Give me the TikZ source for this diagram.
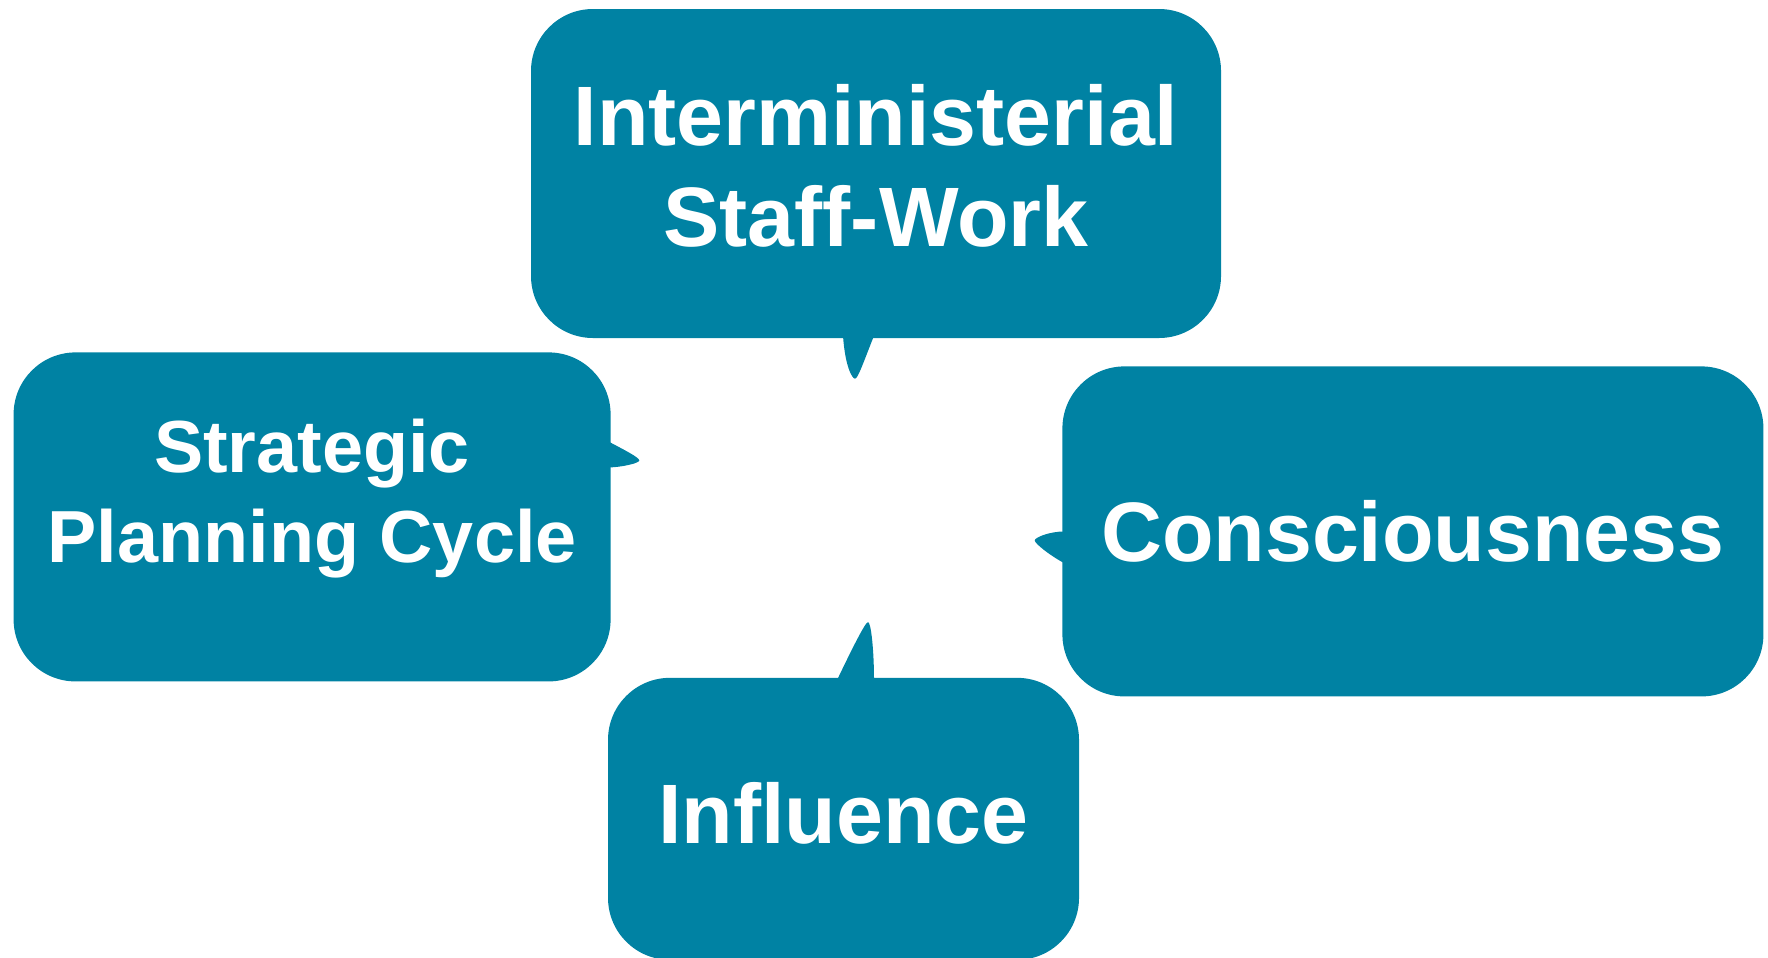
\documentclass[tikz,border=0pt]{standalone}
\usepackage{fontspec}
\setmainfont{Liberation Sans}
\usetikzlibrary{positioning, calc}
\definecolor{bubblecol}{HTML}{0082A3}
\tikzstyle{block} = [rectangle, rounded corners=6.2mm, fill=bubblecol, text=white, align=center, inner sep=0pt, font=\bfseries\fontsize{24}{29}\selectfont]
\tikzstyle{small block} = [block, font=\bfseries\fontsize{21}{25.5}\selectfont]
\tikzstyle{tail} = [fill=bubblecol]

\begin{document}
\begin{tikzpicture}[node distance=5mm]
    \useasboundingbox (0,0) rectangle (17.68,9.57);

    % Nodes.
    \node (node top) [block, minimum width=69mm, minimum height=32.9mm, text depth=4.6pt] at (8.76,7.835) {Interministerial\\Staff-Work};
    \node (node left) [small block, minimum width=59.7mm, minimum height=32.9mm, text depth=15pt, below left=1.3mm and -8.1mm of node top] {Strategic\\Planning Cycle};
    \node (node right) [block, minimum width=70.1mm, minimum height=33mm, below right=2.7mm and -16mm of node top] {Consciousness};
    \node (node bottom) [block, minimum width=47.1mm, minimum height=28.2mm, text depth=3.4pt, below right=-0.5mm and -0.4mm of node left] {Influence};

    % Tails.
    \coordinate (top a) at ($(node top.south)+(-0.33,0.03)$);
    \coordinate (top t) at ($(node top.south)+(-0.21,-0.40)$);
    \coordinate (top b) at ($(node top.south)+(-0.02,0.03)$);
    \fill [tail] (top a) .. controls +(0.02,-0.3) and +(-0.03,0) .. (top t) .. controls +(0.03,0) and +(-0.1,-0.25) .. (top b) -- cycle;

    \coordinate (left a) at ($(node left.east)+(-0.03,0.755)$);
    \coordinate (left t) at ($(node left.east)+(0.28,0.565)$);
    \coordinate (left b) at ($(node left.east)+(-0.03,0.495)$);
    \fill [tail] (left a) .. controls +(0.15,-0.08) and +(0,0.03) .. (left t) .. controls +(0,-0.03) and +(0.12,0) .. (left b) -- cycle;

    \coordinate (right a) at ($(node right.west)+(0.03,0)$);
    \coordinate (right t) at ($(node right.west)+(-0.27,-0.09)$);
    \coordinate (right b) at ($(node right.west)+(0.03,-0.32)$);
    \fill [tail] (right a) .. controls +(-0.15,0) and +(0,0.03) .. (right t) .. controls +(0,-0.03) and +(-0.15,0.08) .. (right b) -- cycle;

    \coordinate (bottom a) at ($(node bottom.north)+(-0.065,-0.03)$);
    \coordinate (bottom t) at ($(node bottom.north)+(0.245,0.55)$);
    \coordinate (bottom b) at ($(node bottom.north)+(0.305,-0.03)$);
    \fill [tail] (bottom a) .. controls +(0.12,0.25) and +(-0.03,0) .. (bottom t) .. controls +(0.03,0) and +(0,0.3) .. (bottom b) -- cycle;
\end{tikzpicture}
\end{document}
